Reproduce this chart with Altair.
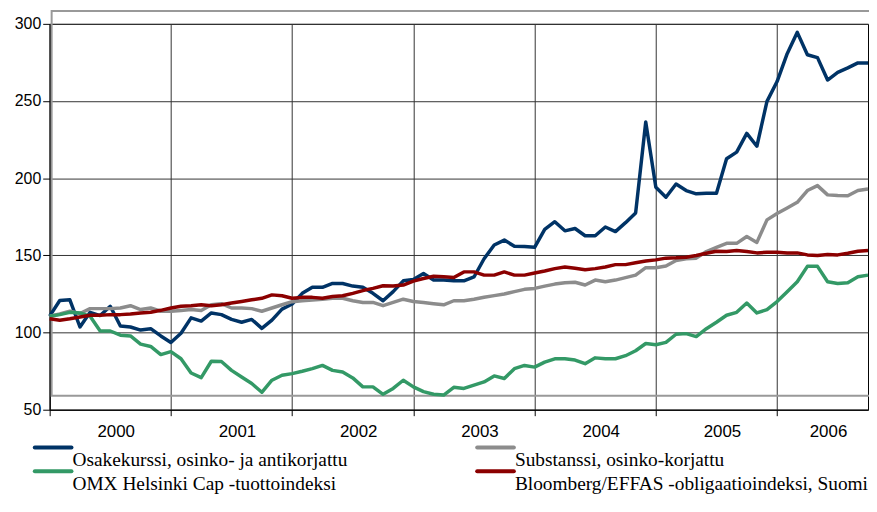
import altair as alt
import pandas as pd

# ---------------- data ----------------
months = list(range(82))  # Jan 2000 .. Oct 2006, monthly
years = ["2000", "2001", "2002", "2003", "2004", "2005", "2006"]
y_ticks = [50, 100, 150, 200, 250, 300]

names = [
    "Osakekurssi, osinko- ja antikorjattu",
    "Substanssi, osinko-korjattu",
    "OMX Helsinki Cap -tuottoindeksi",
    "Bloomberg/EFFAS -obligaatioindeksi, Suomi",
]
colors = ["#003366", "#8c8c8c", "#339966", "#8b0000"]

osake = [110.6, 120.8, 121.2, 103.6, 113.1, 111.0, 117.0, 104.2, 103.6, 101.6,
         102.5, 97.8, 93.6, 99.5, 109.5, 107.4, 112.7, 111.6, 108.5, 106.7,
         108.5, 102.7, 108.0, 115.2, 118.5, 125.4, 129.3, 129.3, 131.8, 131.8,
         130.1, 129.3, 125.4, 120.6, 126.5, 133.5, 134.4, 138.2, 134.0, 134.0,
         133.5, 133.5, 136.0, 147.8, 156.7, 159.9, 155.9, 155.7, 155.2, 166.9,
         171.8, 165.9, 167.4, 162.7, 162.7, 168.4, 165.4, 171.2, 177.5, 236.4,
         194.1, 187.7, 196.2, 192.0, 189.9, 190.3, 190.3, 212.6, 216.9, 229.0,
         220.7, 249.8, 262.6, 280.7, 294.5, 280.0, 278.1, 263.6, 268.6, 271.5,
         274.7, 274.7]

substanssi = [110.6, 112.0, 113.8, 112.3, 115.5, 115.5, 115.5, 115.9, 117.4, 114.9,
              115.9, 113.8, 113.8, 114.3, 114.9, 114.3, 118.0, 118.7, 115.9, 115.9,
              115.5, 113.8, 115.9, 118.0, 120.0, 120.6, 121.0, 121.6, 122.2, 122.2,
              120.6, 119.5, 119.5, 117.4, 119.5, 121.6, 120.1, 119.5, 118.7, 118.0,
              120.6, 120.6, 121.6, 122.9, 123.9, 125.0, 126.5, 128.0, 128.6, 130.1,
              131.4, 132.3, 132.6, 130.8, 134.0, 132.9, 134.0, 135.6, 137.2, 142.0,
              142.0, 143.1, 146.7, 147.8, 148.2, 152.5, 155.2, 157.8, 157.8, 162.2,
              158.4, 173.0, 177.1, 180.7, 184.4, 192.0, 195.2, 189.2, 188.8, 188.6,
              192.0, 193.0]

omx = [110.6, 111.6, 113.1, 112.7, 110.6, 101.0, 101.0, 98.3, 97.8, 92.5,
       91.0, 85.7, 87.6, 83.0, 73.8, 70.8, 81.4, 81.2, 75.5, 71.2,
       67.0, 61.3, 69.1, 72.3, 73.4, 74.9, 76.6, 78.7, 75.5, 74.4,
       70.6, 64.8, 64.8, 60.0, 63.8, 69.1, 64.8, 61.7, 60.0, 59.5,
       64.5, 63.8, 65.9, 68.0, 71.9, 70.2, 76.6, 78.7, 77.6, 80.8,
       83.0, 83.0, 82.2, 79.8, 83.6, 83.0, 83.0, 85.0, 88.2, 92.9,
       92.1, 93.6, 98.9, 99.3, 97.4, 102.5, 106.7, 111.2, 113.1, 119.1,
       112.7, 114.9, 120.1, 126.5, 132.9, 142.9, 142.9, 132.9, 131.8, 132.3,
       136.1, 137.2]

bloomberg = [108.9, 108.0, 108.9, 110.1, 111.2, 111.2, 111.6, 111.6, 112.0, 112.7,
             113.1, 114.4, 115.9, 117.0, 117.4, 118.0, 117.4, 118.0, 119.1, 120.1,
             121.2, 122.2, 124.4, 123.8, 122.2, 122.8, 122.8, 122.2, 123.3, 123.8,
             125.4, 127.2, 128.6, 130.3, 130.1, 130.8, 133.3, 135.0, 136.5, 136.1,
             135.6, 139.3, 139.3, 137.2, 137.2, 139.3, 137.2, 137.2, 138.6, 139.9,
             141.4, 142.5, 141.6, 140.7, 141.4, 142.5, 144.0, 144.0, 145.2, 146.3,
             147.1, 148.2, 148.4, 148.8, 149.9, 151.4, 152.7, 152.5, 153.1, 152.5,
             151.6, 152.0, 152.0, 151.6, 151.6, 150.3, 149.9, 150.6, 150.3, 151.4,
             152.7, 153.1]

series = [osake, substanssi, omx, bloomberg]

# ---------------- layout ----------------
W, H = 825, 389
last = months[-1]
xs = alt.Scale(domain=[0, last], nice=False, zero=False)
ys = alt.Scale(domain=[50, 300], nice=False, zero=False)

xaxis = alt.Axis(values=[12 * k for k in range(len(years))], labels=False, title=None,
                 grid=True, gridColor="#333333", gridWidth=1,
                 ticks=True, tickSize=6, tickColor="#000000",
                 domain=True, domainColor="#000000")
yaxis = alt.Axis(values=y_ticks, title=None, grid=True, gridColor="#333333", gridWidth=1,
                 ticks=True, tickSize=7, tickColor="#000000", domainColor="#000000",
                 labelFont="Liberation Sans", labelFontSize=16, labelColor="#000000",
                 labelPadding=2)

one = pd.DataFrame({"k": [0]})

layers = []

# grey outer frame (behind the lines)
frame = alt.Chart(one).mark_rect(fillOpacity=0, stroke="#999999", strokeWidth=2).encode(
    x=alt.value(2), x2=alt.value(W + 30), y=alt.value(-13), y2=alt.value(375)
)
layers.append(frame)

for vals, col in zip(series, colors):
    df = pd.DataFrame({"m": months, "v": vals})
    layers.append(
        alt.Chart(df).mark_line(color=col, strokeWidth=3.5, strokeJoin="round").encode(
            x=alt.X("m:Q", scale=xs, axis=xaxis),
            y=alt.Y("v:Q", scale=ys, axis=yaxis),
        )
    )

# year labels centred in each (visible) year band
starts = [12 * k for k in range(len(years))]
mids = [(s + min(s + 12, last)) / 2 for s in starts]
ydf = pd.DataFrame({"year": years, "mid": mids})
layers.append(
    alt.Chart(ydf).mark_text(font="Liberation Sans", fontSize=17, baseline="alphabetic",
                             align="center", dx=6, color="#000000").encode(
        x=alt.X("mid:Q", scale=xs, axis=xaxis),
        y=alt.value(H + 27),
        text="year:N",
    )
)

# Excel-style legend: swatch above-left, text below-right, 2 columns
for i, (name, col) in enumerate(zip(names, colors)):
    c, r = i % 2, i // 2
    x0 = -15 + c * 446
    ysw = H + 38 + r * 24
    layers.append(
        alt.Chart(one).mark_rule(color=col, strokeWidth=4, strokeCap="round").encode(
            x=alt.value(x0), x2=alt.value(x0 + 37), y=alt.value(ysw)
        )
    )
    layers.append(
        alt.Chart(one).mark_text(font="Liberation Serif", fontSize=19.5, align="left",
                                 baseline="alphabetic", color="#000000").encode(
            x=alt.value(x0 + 38), y=alt.value(ysw + 19), text=alt.value(name)
        )
    )

chart = alt.layer(*layers).properties(
    width=W, height=H,
    autosize=alt.AutoSizeParams(type="none"),
    padding={"left": 42, "top": 14, "right": 1, "bottom": 85},
    background="white",
).configure_view(stroke="#000000", strokeWidth=1)

chart.save("out.html", embed_options={"renderer": "svg", "actions": False})
